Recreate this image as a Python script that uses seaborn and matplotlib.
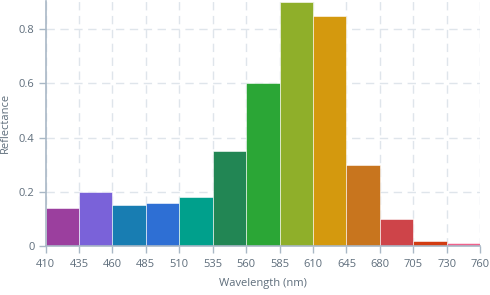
import matplotlib
matplotlib.use("Agg")
import matplotlib.pyplot as plt
import seaborn as sns
import pandas as pd

edges = [410, 435, 460, 485, 510, 535, 560, 585, 610, 645, 680, 705, 730, 760]
bins = ["410-435", "435-460", "460-485", "485-510", "510-535", "535-560", "560-585",
        "585-610", "610-645", "645-680", "680-705", "705-730", "730-760"]
reflectance = [0.14, 0.20, 0.15, 0.16, 0.18, 0.35, 0.60, 0.90, 0.85, 0.30, 0.10, 0.02, 0.01]
colors = ["#9b3f9e", "#7a62d9", "#187db2", "#2e6fd4", "#00a08c", "#228654", "#2ba636",
          "#8faf2a", "#d4990e", "#c8751e", "#ce4449", "#d23c12", "#f0628c"]

sns.set_style("white")
plt.rcParams['font.family'] = ['Open Sans', 'DejaVu Sans']

df = pd.DataFrame({"bin": bins, "refl": reflectance})

fig = plt.figure(figsize=(4.9, 2.95), dpi=100)
ax = fig.add_axes([0.093, 0.166, 0.887, 0.832])

sns.barplot(data=df, x="bin", y="refl", hue="bin", palette=colors, width=1.0,
            legend=False, ax=ax, saturation=1, edgecolor="white", linewidth=0.4, zorder=3)

ax.set_xlim(-0.5, len(bins) - 0.5)
ax.set_ylim(0, 0.905)
ax.set_xticks([i - 0.5 for i in range(len(edges))])
ax.set_xticklabels([str(e) for e in edges])
ax.set_yticks([0, 0.2, 0.4, 0.6, 0.8])
ax.set_yticklabels(["0", "0.2", "0.4", "0.6", "0.8"])

tc = "#5f6e7c"
ac = "#a9b8c6"
ax.grid(True, color="#dfe5eb", linestyle=(0, (6, 4)), linewidth=1.0, zorder=0)
ax.set_axisbelow(True)
for s in ["top", "right"]:
    ax.spines[s].set_visible(False)
for s in ["left", "bottom"]:
    ax.spines[s].set_color(ac)
    ax.spines[s].set_linewidth(1.2)
    ax.spines[s].set_zorder(5)
ax.tick_params(axis="x", colors=ac, labelcolor=tc, labelsize=8, length=5, width=1, pad=4, direction="out", bottom=True)
ax.tick_params(axis="y", colors=ac, labelcolor=tc, labelsize=8, length=5, width=1, pad=3, direction="out", left=True)
ax.set_xlabel("Wavelength (nm)", color=tc, fontsize=8, labelpad=6)
ax.set_ylabel("Reflectance", color=tc, fontsize=8, labelpad=6)

fig.savefig("out.png", dpi=100)
